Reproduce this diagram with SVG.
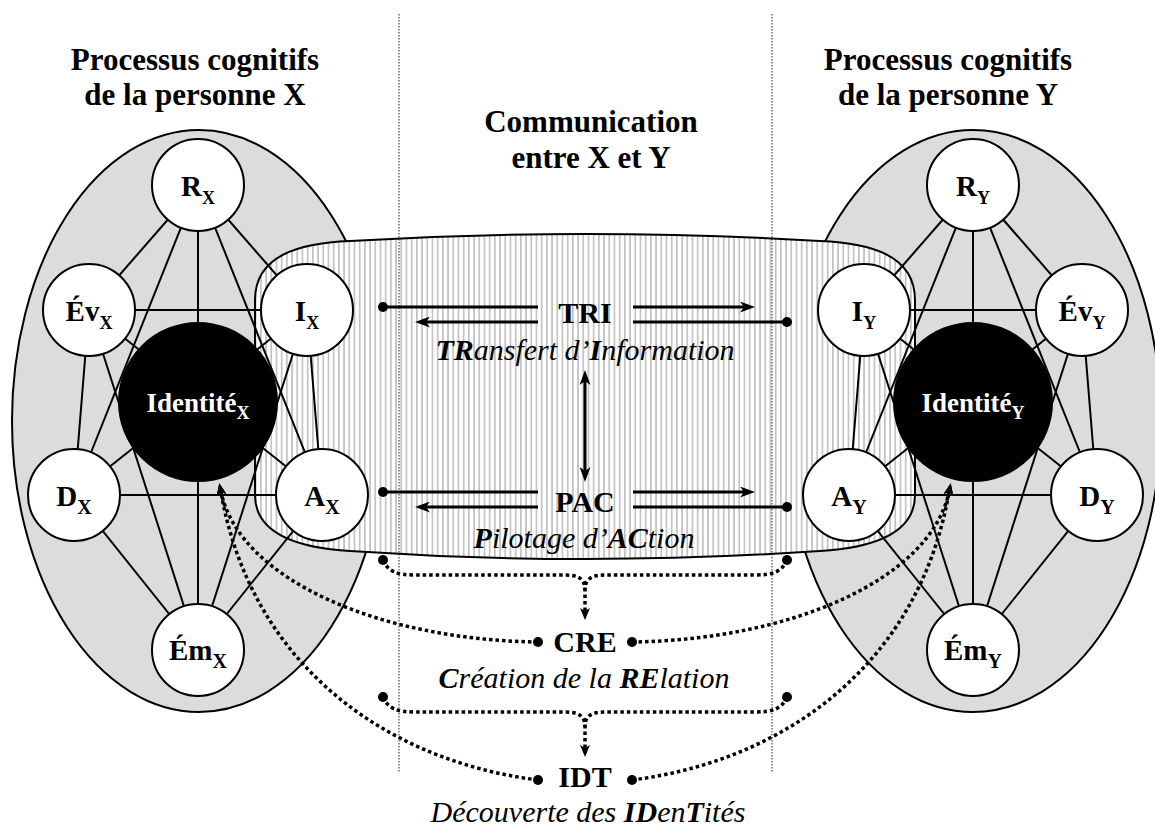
<svg xmlns="http://www.w3.org/2000/svg" width="1155" height="828" viewBox="0 0 1155 828">
<style>
.h{font-family:"Liberation Serif","Times New Roman",serif;font-weight:bold;font-size:30px;text-anchor:middle;fill:#000}
.t{font-size:31px}
.lb{font-family:"Liberation Serif","Times New Roman",serif;font-weight:bold;font-size:29px;text-anchor:middle;fill:#000}
.idt{font-family:"Liberation Serif","Times New Roman",serif;font-weight:bold;font-size:27px;text-anchor:middle;fill:#fff}
.it{font-family:"Liberation Serif","Times New Roman",serif;font-style:italic;font-size:30px;text-anchor:middle;fill:#000}
.b{font-weight:bold}
.sub{font-size:18px}
.sub2{font-size:20px}
.ell{fill:#dcdcdc;stroke:#000;stroke-width:2}
.node{fill:#fff;stroke:#000;stroke-width:2}
.ident{fill:#000;stroke:#000;stroke-width:2}
.edge{stroke:#000;stroke-width:2;fill:none}
.sep{stroke:#222;stroke-width:1;stroke-dasharray:1.5 1.5;fill:none}
.arr{stroke:#000;stroke-width:3;fill:none}
.dot{stroke:#000;stroke-width:3.5;stroke-dasharray:3.5 3;fill:none}
</style>
<defs>
<pattern id="hatch" width="5.2" height="10" patternUnits="userSpaceOnUse">
<rect width="5.2" height="10" fill="#fff"/>
<rect x="0" y="0" width="1.7" height="10" fill="#c2c2c2"/>
</pattern>
<marker id="ah" markerUnits="userSpaceOnUse" viewBox="0 0 15 11" markerWidth="15" markerHeight="11" refX="4" refY="5.5" orient="auto-start-reverse">
<path d="M0,0 L15,5.5 L0,11 L4,5.5 Z" fill="#000"/>
</marker>
<marker id="ahs" markerUnits="userSpaceOnUse" viewBox="0 0 12 10" markerWidth="12" markerHeight="10" refX="3" refY="5" orient="auto">
<path d="M0,0 L12,5 L0,10 L3,5 Z" fill="#000"/>
</marker>
</defs>
<rect width="1155" height="828" fill="#fff"/>

<g id="background">
<ellipse class="ell" cx="199" cy="421" rx="187" ry="291"/>
<ellipse class="ell" cx="973" cy="421" rx="188" ry="291"/>
<path id="communication-zone" d="M255,300 C255,255 300,243 350,241 Q585,227 820,241 C870,243 915,255 915,300 L915,495 C915,535 870,548 820,551 Q585,567 350,551 C300,548 255,535 255,495 Z" fill="url(#hatch)" stroke="#000" stroke-width="2"/>
<line class="sep" x1="399" y1="14" x2="399" y2="772"/>
<line class="sep" x1="772" y1="14" x2="772" y2="772"/>
</g>

<g id="connectors">
<g id="network-x" class="edge">
<line x1="198" y1="185" x2="89" y2="310"/>
<line x1="198" y1="185" x2="307" y2="310"/>
<line x1="198" y1="185" x2="74" y2="495"/>
<line x1="198" y1="185" x2="322" y2="495"/>
<line x1="198" y1="185" x2="198" y2="650"/>
<line x1="89" y1="310" x2="307" y2="310"/>
<line x1="89" y1="310" x2="74" y2="495"/>
<line x1="89" y1="310" x2="322" y2="495"/>
<line x1="89" y1="310" x2="198" y2="650"/>
<line x1="307" y1="310" x2="74" y2="495"/>
<line x1="307" y1="310" x2="322" y2="495"/>
<line x1="307" y1="310" x2="198" y2="650"/>
<line x1="74" y1="495" x2="322" y2="495"/>
<line x1="74" y1="495" x2="198" y2="650"/>
<line x1="322" y1="495" x2="198" y2="650"/>
</g>
<g id="network-y" class="edge">
<line x1="973" y1="185" x2="1082" y2="310"/>
<line x1="973" y1="185" x2="864" y2="310"/>
<line x1="973" y1="185" x2="1097" y2="495"/>
<line x1="973" y1="185" x2="849" y2="495"/>
<line x1="973" y1="185" x2="973" y2="650"/>
<line x1="1082" y1="310" x2="864" y2="310"/>
<line x1="1082" y1="310" x2="1097" y2="495"/>
<line x1="1082" y1="310" x2="849" y2="495"/>
<line x1="1082" y1="310" x2="973" y2="650"/>
<line x1="864" y1="310" x2="1097" y2="495"/>
<line x1="864" y1="310" x2="849" y2="495"/>
<line x1="864" y1="310" x2="973" y2="650"/>
<line x1="1097" y1="495" x2="849" y2="495"/>
<line x1="1097" y1="495" x2="973" y2="650"/>
<line x1="849" y1="495" x2="973" y2="650"/>
</g>
</g>

<g id="identite-x"><circle class="ident" cx="198" cy="402" r="79"/><text class="idt" x="198" y="412">Identité<tspan class="sub" dy="7">X</tspan></text></g>
<g id="identite-y"><circle class="ident" cx="973" cy="402" r="79"/><text class="idt" x="973" y="412">Identité<tspan class="sub" dy="7">Y</tspan></text></g>

<g id="node-rx"><circle class="node" cx="198" cy="185" r="46"/><text class="lb" x="198" y="196">R<tspan class="sub" dy="8">X</tspan></text></g>
<g id="node-evx"><circle class="node" cx="89" cy="310" r="46"/><text class="lb" x="89" y="321">Év<tspan class="sub" dy="8">X</tspan></text></g>
<g id="node-ix"><circle class="node" cx="307" cy="310" r="46"/><text class="lb" x="307" y="321">I<tspan class="sub" dy="8">X</tspan></text></g>
<g id="node-dx"><circle class="node" cx="74" cy="495" r="46"/><text class="lb" x="74" y="506">D<tspan class="sub2" dy="8">X</tspan></text></g>
<g id="node-ax"><circle class="node" cx="322" cy="495" r="46"/><text class="lb" x="322" y="506">A<tspan class="sub2" dy="8">X</tspan></text></g>
<g id="node-emx"><circle class="node" cx="198" cy="650" r="46"/><text class="lb" x="198" y="660">Ém<tspan class="sub2" dy="8">X</tspan></text></g>

<g id="node-ry"><circle class="node" cx="973" cy="185" r="46"/><text class="lb" x="973" y="196">R<tspan class="sub" dy="8">Y</tspan></text></g>
<g id="node-iy"><circle class="node" cx="864" cy="310" r="46"/><text class="lb" x="864" y="321">I<tspan class="sub" dy="8">Y</tspan></text></g>
<g id="node-evy"><circle class="node" cx="1082" cy="310" r="46"/><text class="lb" x="1082" y="321">Év<tspan class="sub" dy="8">Y</tspan></text></g>
<g id="node-ay"><circle class="node" cx="849" cy="495" r="46"/><text class="lb" x="849" y="506">A<tspan class="sub2" dy="8">Y</tspan></text></g>
<g id="node-dy"><circle class="node" cx="1097" cy="495" r="46"/><text class="lb" x="1097" y="506">D<tspan class="sub2" dy="8">Y</tspan></text></g>
<g id="node-emy"><circle class="node" cx="973" cy="650" r="46"/><text class="lb" x="973" y="660">Ém<tspan class="sub2" dy="8">Y</tspan></text></g>

<g id="connectors-communication">
<g id="tri-arrows">
<line class="arr" x1="383" y1="307" x2="538" y2="307"/>
<circle cx="383" cy="307" r="5" fill="#000"/>
<line class="arr" x1="633" y1="307" x2="744" y2="307" marker-end="url(#ah)"/>
<line class="arr" x1="538" y1="322" x2="426" y2="322" marker-end="url(#ah)"/>
<line class="arr" x1="633" y1="322" x2="787" y2="322"/>
<circle cx="787" cy="322" r="5" fill="#000"/>
</g>
<line class="arr" x1="585" y1="381" x2="585" y2="471" marker-start="url(#ah)" marker-end="url(#ah)"/>
<g id="pac-arrows">
<line class="arr" x1="383" y1="492" x2="538" y2="492"/>
<circle cx="383" cy="492" r="5" fill="#000"/>
<line class="arr" x1="633" y1="492" x2="744" y2="492" marker-end="url(#ah)"/>
<line class="arr" x1="538" y1="507" x2="426" y2="507" marker-end="url(#ah)"/>
<line class="arr" x1="633" y1="507" x2="787" y2="507"/>
<circle cx="787" cy="507" r="5" fill="#000"/>
</g>
<g id="brace-cre">
<circle cx="383" cy="560" r="5" fill="#000"/>
<circle cx="787" cy="560" r="5" fill="#000"/>
<path class="dot" d="M787,560 C782,572 772,575 755,575 L605,575 C590,575 585,580 585,590"/>
<path class="dot" d="M383,560 C388,572 398,575 415,575 L565,575 C580,575 585,580 585,590 L585,611" marker-end="url(#ahs)"/>
</g>
<g id="cre-links">
<circle cx="538" cy="642" r="5" fill="#000"/>
<circle cx="632" cy="642" r="5" fill="#000"/>
<path class="dot" d="M538,642 C380,640 240,580 221,492" marker-end="url(#ahs)"/>
<path class="dot" d="M632,642 C790,640 930,580 949,492" marker-end="url(#ahs)"/>
</g>
<g id="brace-idt">
<circle cx="383" cy="697" r="5" fill="#000"/>
<circle cx="787" cy="697" r="5" fill="#000"/>
<path class="dot" d="M787,697 C782,709 772,712 755,712 L605,712 C590,712 585,717 585,727"/>
<path class="dot" d="M383,697 C388,709 398,712 415,712 L565,712 C580,712 585,717 585,727 L585,748" marker-end="url(#ahs)"/>
</g>
<g id="idt-links">
<circle cx="538" cy="780" r="5" fill="#000"/>
<circle cx="632" cy="780" r="5" fill="#000"/>
<path class="dot" d="M538,780 C380,760 250,660 221,492" marker-end="url(#ahs)"/>
<path class="dot" d="M632,780 C790,760 920,660 949,492" marker-end="url(#ahs)"/>
</g>
</g>

<g id="titles">
<text class="h t" x="195" y="70">Processus cognitifs</text>
<text class="h t" x="195" y="105">de la personne X</text>
<text class="h t" x="948" y="70">Processus cognitifs</text>
<text class="h t" x="948" y="105">de la personne Y</text>
<text class="h t" x="591" y="132">Communication</text>
<text class="h t" x="591" y="168">entre X et Y</text>
</g>

<g id="label-tri">
<text class="h" x="585" y="323">TRI</text>
<text class="it" x="585" y="360"><tspan class="b">TR</tspan>ansfert d’<tspan class="b">I</tspan>nformation</text>
</g>
<g id="label-pac">
<text class="h" x="585" y="512">PAC</text>
<text class="it" x="584" y="548"><tspan class="b">P</tspan>ilotage d’<tspan class="b">AC</tspan>tion</text>
</g>
<g id="label-cre">
<text class="h" x="585" y="652">CRE</text>
<text class="it" x="584" y="688"><tspan class="b">C</tspan>réation de la <tspan class="b">RE</tspan>lation</text>
</g>
<g id="label-idt">
<text class="h" x="585" y="787">IDT</text>
<text class="it" x="588" y="822">Découverte des <tspan class="b">ID</tspan>en<tspan class="b">T</tspan>ités</text>
</g>
</svg>
